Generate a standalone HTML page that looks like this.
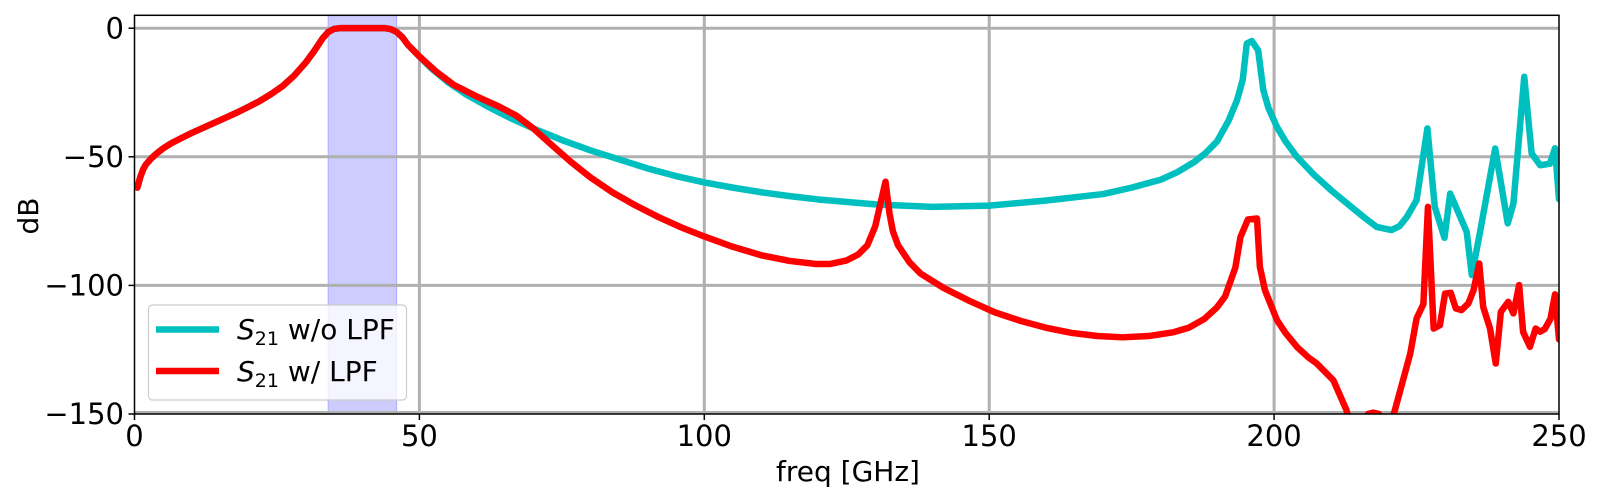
<!DOCTYPE html>
<html><head><meta charset="utf-8"><style>
html,body{margin:0;padding:0;background:#fff;}
svg{display:block;font-family:"DejaVu Sans","Liberation Sans",sans-serif;}
</style></head><body>
<svg width="1600" height="500" viewBox="0 0 1600 500" xmlns="http://www.w3.org/2000/svg">
<defs><clipPath id="c"><rect x="134.5" y="15.3" width="1424.5" height="398.7"/></clipPath></defs>
<rect x="0" y="0" width="1600" height="500" fill="#fff"/>
<rect x="328.2" y="15.3" width="68.4" height="398.7" fill="#ccccff" stroke="#aaaaff" stroke-width="1"/>
<g stroke="#b0b0b0" stroke-width="3">
<line x1="419.4" y1="15.3" x2="419.4" y2="414"/>
<line x1="704.3" y1="15.3" x2="704.3" y2="414"/>
<line x1="989.2" y1="15.3" x2="989.2" y2="414"/>
<line x1="1274.1" y1="15.3" x2="1274.1" y2="414"/>
<line x1="134.5" y1="28.2" x2="1559" y2="28.2"/>
<line x1="134.5" y1="156.8" x2="1559" y2="156.8"/>
<line x1="134.5" y1="285.4" x2="1559" y2="285.4"/>
<line x1="134.5" y1="412.5" x2="1559" y2="412.5"/>
</g>
<g clip-path="url(#c)">
<g transform="translate(134.5,15.3) scale(5.698,-2.572) translate(0,-5)" fill="none" stroke-linejoin="round" stroke-linecap="round">
<polyline vector-effect="non-scaling-stroke" stroke="#00bfbf" stroke-width="6.5" points="0.5,-62 1,-58 1.5,-55 2,-53 3,-50.5 4,-48.5 5,-46.8 6.5,-44.7 8,-43 10,-40.8 12,-38.8 14,-36.8 16,-34.8 18,-32.8 20,-30.6 22,-28.3 24,-25.6 26,-22.5 28,-18.5 30,-13.5 31.5,-9 33,-4 34,-1.5 35,-0.3 36,0 44,0 45,-0.4 46,-1.5 47,-3.5 48,-6.5 50,-11 52,-15.5 55,-21 58,-25.5 62,-30.5 66,-35 70,-39 75,-43.5 80,-47.5 85,-51 90,-54.5 95,-57.5 100,-60 105,-62 110,-63.8 115,-65.3 120,-66.6 130,-68.5 140,-69.5 150,-69 160,-67 170,-64.5 175,-62 180,-59 183,-56 186,-52 188,-48.5 190,-44 192,-36 193.5,-28 194.5,-20 195.2,-6 196.1,-5 197.2,-8.6 198.1,-24 199,-31 200.5,-38.4 202,-44 204,-50 207,-57 210,-63 213,-68.5 215.7,-73.4 218,-77.3 220.6,-78.5 222,-77 223.3,-73.4 225,-66.9 226.9,-39 228.2,-69.5 229.9,-81.5 230.9,-64.3 233.8,-79.2 234.7,-96 236.1,-79.8 238.8,-46.8 241,-75.9 242,-68.2 243.9,-18.9 245.2,-48.7 246.7,-53.3 248.4,-52.7 249.3,-46.7 250,-66.5"/>
<polyline vector-effect="non-scaling-stroke" stroke="#ff0000" stroke-width="6.5" points="0.5,-62 1,-58 1.5,-55 2,-53 3,-50.5 4,-48.5 5,-46.8 6.5,-44.7 8,-43 10,-40.8 12,-38.8 14,-36.8 16,-34.8 18,-32.8 20,-30.6 22,-28.3 24,-25.6 26,-22.5 28,-18.5 30,-13.5 31.5,-9 33,-4 34,-1.5 35,-0.3 36,0 44,0 45,-0.4 46,-1.5 47,-3.5 48,-6.5 50,-11 53,-17 56,-22 60,-26.5 64,-30.5 67,-34 70,-39 73,-45 76.6,-52 80,-58 84,-64 88,-69 92,-73.5 96,-77.5 100,-81 105,-85 110,-88.3 115,-90.5 119.6,-91.7 122,-91.7 125,-90.3 127,-88 128.6,-84.5 130,-77 131.8,-59.7 132.5,-72 133.1,-79 134,-84.4 136,-91 138,-95.5 142,-101 146.5,-106 151,-110.5 155.5,-113.8 160,-116.5 164.5,-118.5 169,-119.7 173.4,-120.2 178,-119.7 182.4,-118.2 185,-116.5 187.8,-113 190,-108.5 191.4,-104.3 193.2,-93.1 194.1,-81.2 195.4,-74.4 197,-74 197.5,-92.8 198.4,-101.9 200.5,-113.5 202,-118.5 204,-123.9 206,-128 207.5,-130.4 210.4,-136.9 212.7,-148.5 213.5,-155 215.5,-155 216.5,-150 217.4,-149.5 218.4,-150 219.5,-155 220.7,-152 221.2,-148.5 223.9,-126.5 225,-112.9 226.2,-107.3 227,-69.5 228,-116.8 229.1,-115.5 230,-103.2 231,-102.9 231.9,-109 232.9,-109.6 234.1,-107 235,-101.9 236,-91.5 236.7,-108.4 237.9,-116.8 238.9,-130.4 239.8,-110.3 241.1,-106.4 242,-110.9 243,-99.9 243.7,-118.1 244.9,-123.9 245.9,-116.8 246.7,-118 247.5,-117 248.5,-113 249.3,-103.5 250,-121"/>
</g>
</g>
<rect x="134.5" y="15.3" width="1424.5" height="398.7" fill="none" stroke="#000" stroke-width="1.5"/>
<g stroke="#000" stroke-width="1.5">
<line x1="134.5" y1="414" x2="134.5" y2="420"/><line x1="419.4" y1="414" x2="419.4" y2="420"/><line x1="704.3" y1="414" x2="704.3" y2="420"/><line x1="989.2" y1="414" x2="989.2" y2="420"/><line x1="1274.1" y1="414" x2="1274.1" y2="420"/><line x1="1559" y1="414" x2="1559" y2="420"/>
<line x1="128.5" y1="28.2" x2="134.5" y2="28.2"/><line x1="128.5" y1="156.8" x2="134.5" y2="156.8"/><line x1="128.5" y1="285.4" x2="134.5" y2="285.4"/><line x1="128.5" y1="414" x2="134.5" y2="414"/>
</g>
<g font-size="29" fill="#000" text-anchor="middle">
<text x="134.5" y="446">0</text><text x="419.4" y="446">50</text><text x="704.3" y="446">100</text><text x="989.2" y="446">150</text><text x="1274.1" y="446">200</text><text x="1559" y="446">250</text>
</g>
<g font-size="29" fill="#000" text-anchor="end">
<text x="124" y="38.5">0</text><text x="124" y="167">−50</text><text x="124" y="295.5">−100</text><text x="124" y="424">−150</text>
</g>
<text x="848" y="481" font-size="28" text-anchor="middle">freq [GHz]</text>
<text transform="translate(38,216) rotate(-90)" font-size="28" text-anchor="middle">dB</text>
<rect x="148.5" y="305" width="258" height="95" rx="4" fill="#fff" fill-opacity="0.8" stroke="#cccccc" stroke-width="1.2"/>
<line x1="156" y1="329.5" x2="219" y2="329.5" stroke="#00bfbf" stroke-width="6.5"/>
<line x1="156" y1="371" x2="219" y2="371" stroke="#ff0000" stroke-width="6.5"/>
<g font-size="28" fill="#000">
<text x="237" y="339"><tspan font-style="italic">S</tspan><tspan font-size="19" dy="6">21</tspan><tspan dy="-6"> w/o LPF</tspan></text>
<text x="237" y="381"><tspan font-style="italic">S</tspan><tspan font-size="19" dy="6">21</tspan><tspan dy="-6"> w/ LPF</tspan></text>
</g>
</svg>
</body></html>
